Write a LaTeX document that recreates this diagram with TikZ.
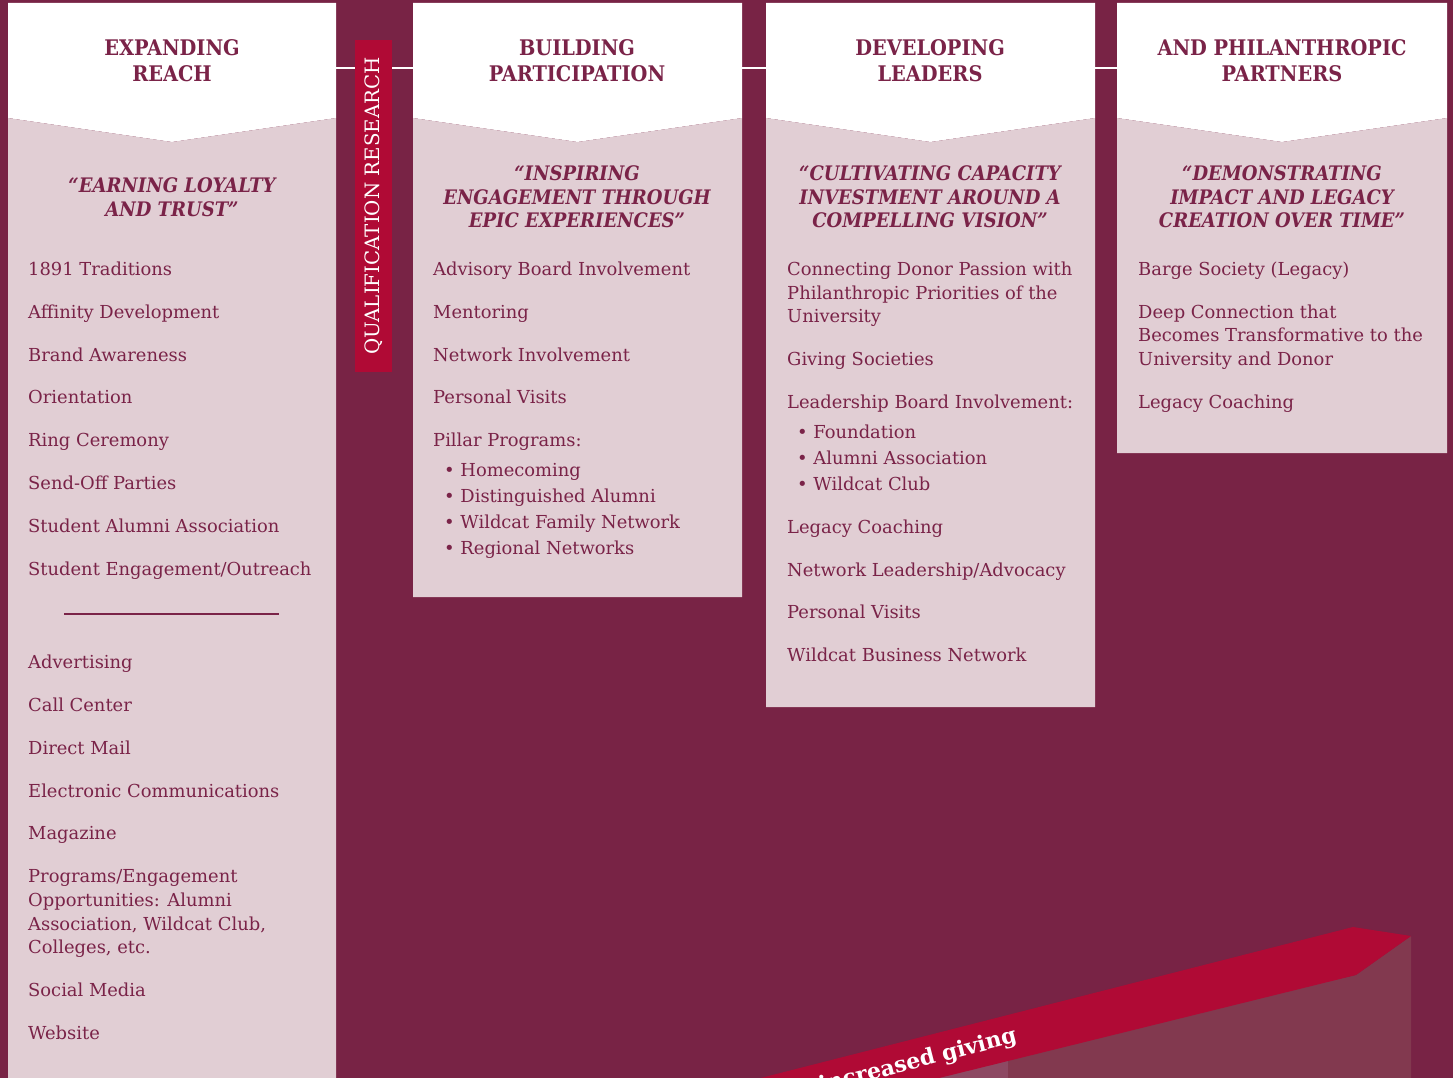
\documentclass[tikz,border=0pt]{standalone}
\usepackage{fontspec}
\setmainfont{DejaVu Serif}
\newfontfamily\condfont{DejaVu Serif Condensed}
\definecolor{bgm}{RGB}{120,35,69}
\definecolor{panel}{RGB}{225,206,212}
\definecolor{txt}{RGB}{122,35,72}
\definecolor{redbar}{RGB}{176,10,53}
\definecolor{barA}{RGB}{141,73,99}
\definecolor{barB}{RGB}{130,57,79}
\tikzset{
  itemtxt/.style={anchor=base west, inner sep=0pt, text=txt, font=\fontsize{17.9}{23}\selectfont},
  headtxt/.style={anchor=center, inner sep=0pt, align=center, text=txt, font=\condfont\bfseries\fontsize{21.5}{26}\selectfont},
  quotetxt/.style={anchor=center, inner sep=0pt, align=center, text=txt, font=\condfont\bfseries\itshape\fontsize{20}{23.5}\selectfont},
  conn/.style={draw=white, line width=2pt},
}
\begin{document}
\begin{tikzpicture}[x=1pt,y=-1pt]
\useasboundingbox (0,0) rectangle (1453,1078);
\begin{scope}
\clip (0,0) rectangle (1453,1078);
\fill[bgm] (0,0) rectangle (1453,1078);
% columns
\foreach \L/\R/\B in {8/336/1080, 413/742/597, 766/1095/707, 1117/1447/453}{
  \pgfmathsetmacro{\C}{(\L+\R)/2}
  \fill[white] (\L,3) -- (\R,3) -- (\R,118) -- (\C,142) -- (\L,118) -- cycle;
  \fill[panel] (\L,118) -- (\C,142) -- (\R,118) -- (\R,\B) -- (\L,\B) -- cycle;
}
% connector coordinates
\coordinate (c1r) at (336,68);
\coordinate (qbt) at (355,68);
\coordinate (qbb) at (392,68);
\coordinate (c2l) at (413,68);
\coordinate (c2r) at (742,68);
\coordinate (c3l) at (766,68);
\coordinate (c3r) at (1095,68);
\coordinate (c4l) at (1117,68);
\draw[conn] (c1r) -- (qbt);
\draw[conn] (qbb) -- (c2l);
\draw[conn] (c2r) -- (c3l);
\draw[conn] (c3r) -- (c4l);
% qualification research bar
\fill[redbar] (355,40) rectangle (392,372);
\node[inner sep=0pt, rotate=90, text=white, font=\fontsize{19.8}{21}\selectfont] (qr) at (374,206) {QUALIFICATION RESEARCH};
% headings
\node[headtxt] (h1) at (172,61) {EXPANDING\\REACH};
\node[headtxt] (h2) at (577,61) {BUILDING\\PARTICIPATION};
\node[headtxt] (h3) at (930,61) {DEVELOPING\\LEADERS};
\node[headtxt] (h4) at (1282,61) {AND PHILANTHROPIC\\PARTNERS};
% quotes
\node[quotetxt] (q1) at (172,197) {“EARNING LOYALTY\\AND TRUST”};
\node[quotetxt] (q2) at (577,197) {“INSPIRING\\ENGAGEMENT THROUGH\\EPIC EXPERIENCES”};
\node[quotetxt] (q3) at (930,197) {“CULTIVATING CAPACITY\\INVESTMENT AROUND A\\COMPELLING VISION”};
\node[quotetxt] (q4) at (1282,197) {“DEMONSTRATING\\IMPACT AND LEGACY\\CREATION OVER TIME”};
% column 1 items
\node[itemtxt] (a1) at (28,275) {1891 Traditions};
\node[itemtxt] (a2) at (28,318) {Affinity Development};
\node[itemtxt] (a3) at (28,361) {Brand Awareness};
\node[itemtxt] (a4) at (28,403) {Orientation};
\node[itemtxt] (a5) at (28,446) {Ring Ceremony};
\node[itemtxt] (a6) at (28,489) {Send-Off Parties};
\node[itemtxt] (a7) at (28,532) {Student Alumni Association};
\node[itemtxt] (a8) at (28,575) {Student Engagement/Outreach};
\coordinate (dl) at (64,614);
\coordinate (dr) at (279,614);
\draw[txt, line width=2pt] (dl) -- (dr);
\node[itemtxt] (b1) at (28,668) {Advertising};
\node[itemtxt] (b2) at (28,711) {Call Center};
\node[itemtxt] (b3) at (28,754) {Direct Mail};
\node[itemtxt] (b4) at (28,797) {Electronic Communications};
\node[itemtxt] (b5) at (28,839) {Magazine};
\node[itemtxt] (b6a) at (28,882) {Programs/Engagement};
\node[itemtxt] (b6b) at (28,906) {Opportunities: Alumni};
\node[itemtxt] (b6c) at (28,930) {Association, Wildcat Club,};
\node[itemtxt] (b6d) at (28,953) {Colleges, etc.};
\node[itemtxt] (b7) at (28,996) {Social Media};
\node[itemtxt] (b8) at (28,1039) {Website};
% column 2 items
\node[itemtxt] (p1) at (433,275) {Advisory Board Involvement};
\node[itemtxt] (p2) at (433,318) {Mentoring};
\node[itemtxt] (p3) at (433,361) {Network Involvement};
\node[itemtxt] (p4) at (433,403) {Personal Visits};
\node[itemtxt] (p5) at (433,446) {Pillar Programs:};
\node[itemtxt] (p5a) at (444,476) {• Homecoming};
\node[itemtxt] (p5b) at (444,502) {• Distinguished Alumni};
\node[itemtxt] (p5c) at (444,528) {• Wildcat Family Network};
\node[itemtxt] (p5d) at (444,554) {• Regional Networks};
% column 3 items
\node[itemtxt] (l1a) at (787,275) {Connecting Donor Passion with};
\node[itemtxt] (l1b) at (787,299) {Philanthropic Priorities of the};
\node[itemtxt] (l1c) at (787,322) {University};
\node[itemtxt] (l2) at (787,365) {Giving Societies};
\node[itemtxt] (l3) at (787,408) {Leadership Board Involvement:};
\node[itemtxt] (l3a) at (797,438) {• Foundation};
\node[itemtxt] (l3b) at (797,464) {• Alumni Association};
\node[itemtxt] (l3c) at (797,490) {• Wildcat Club};
\node[itemtxt] (l4) at (787,533) {Legacy Coaching};
\node[itemtxt] (l5) at (787,576) {Network Leadership/Advocacy};
\node[itemtxt] (l6) at (787,618) {Personal Visits};
\node[itemtxt] (l7) at (787,661) {Wildcat Business Network};
% column 4 items
\node[itemtxt] (d1) at (1138,275) {Barge Society (Legacy)};
\node[itemtxt] (d2a) at (1138,318) {Deep Connection that};
\node[itemtxt] (d2b) at (1138,341) {Becomes Transformative to the};
\node[itemtxt] (d2c) at (1138,365) {University and Donor};
\node[itemtxt] (d3) at (1138,408) {Legacy Coaching};
% bars and ribbon
\fill[barA] (930,1100) -- (930,1072) -- (1008,1055) -- (1008,1100) -- cycle;
\fill[barB] (1008,1100) -- (1008,1055) -- (1356,975) -- (1411,936) -- (1411,1100) -- cycle;
\fill[redbar] (690,1096) -- (1353,927) -- (1411,936) -- (1356,975) -- (880,1092.6) -- (860,1100) -- (690,1100) -- cycle;
\node[anchor=base east, inner sep=0pt, rotate=14.5, text=white, font=\bfseries\fontsize{22}{24}\selectfont] (ig) at (1018,1042) {increased giving};
\end{scope}
\end{tikzpicture}
\end{document}
